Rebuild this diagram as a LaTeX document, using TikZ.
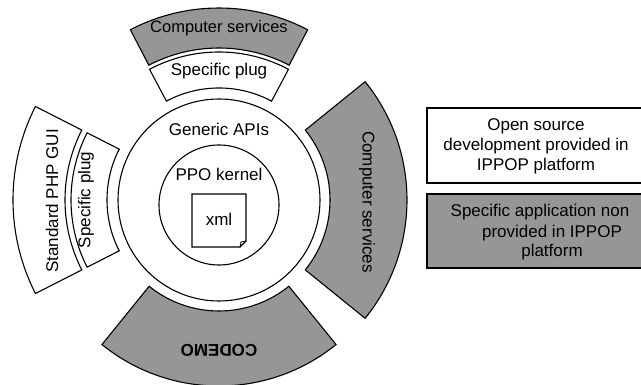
\documentclass[tikz,border=0pt]{standalone}
\usepackage{fontspec}
\setmainfont{Liberation Sans}
\usetikzlibrary{calc}
\definecolor{sectgray}{RGB}{150,150,150}
\begin{document}
\begin{tikzpicture}[x=1pt,y=1pt,
  outl/.style={draw=black,line width=1.1pt,line join=miter},
  graysec/.style={outl,fill=sectgray},
  whitesec/.style={outl,fill=white},
  lbl/.style={font=\fontsize{17}{20}\selectfont,inner sep=0pt,align=center},
  lbls/.style={font=\fontsize{16.5}{19}\selectfont,inner sep=0pt,align=center}]
\clip (0,0) rectangle (641,385);
\coordinate (C) at (219,185);
\newcommand{\annsec}[5]{%
  \path[#1] ($(C)+(#2:#4)$) arc[start angle=#2,end angle=#3,radius=#4]
    -- ($(C)+(#3:#5)$) arc[start angle=#3,end angle=#2,radius=#5] -- cycle;}
% top
\annsec{graysec}{62.5}{117.5}{152}{192}
\annsec{whitesec}{62}{118}{112}{148}
% left
\annsec{whitesec}{153}{207}{154}{206}
\annsec{whitesec}{153}{207}{112}{148}
% right
\annsec{graysec}{-39}{39}{111}{188}
% bottom
\annsec{graysec}{231}{309}{111}{186}
% circles
\draw[outl] (C) circle[radius=101];
\coordinate (K) at (219,180);
\draw[outl] (K) circle[radius=60];
% xml document
\draw[outl,fill=white] (192,191) -- (246,191) -- (246,144) -- (240,138) -- (192,138) -- cycle;
\draw[outl,line width=0.8pt] (246,144) -- (241,143) -- (240,138);
% texts
\node[lbls] (cstop) at (219,357) {Computer services};
\node[lbl] (sptop) at (219,314) {Specific plug};
\node[lbl] (gapi) at (219,256) {Generic APIs};
\node[lbl] (ppo) at (219,211) {PPO kernel};
\node[lbl] (xml) at (219,166) {xml};
\node[lbl,rotate=90] (gui) at (52,184) {Standard PHP GUI};
\node[lbl,rotate=90] (spleft) at (86,185) {Specific plug};
\node[lbl,rotate=-90] (csright) at (367,183) {Computer services};
\node[lbl,rotate=180,font=\fontsize{17}{20}\selectfont\bfseries] (codemo) at (219,35) {CODEMO};
% legend
\draw[outl,fill=white] (427,202) rectangle (645,277);
\node[lbl] (leg1) at (536,239) {Open source\\development provided in\\IPPOP platform};
\draw[outl,fill=sectgray] (427,117) rectangle (645,191);
\node[lbl,anchor=north] (leg2a) at (540,181) {Specific application non};
\node[lbl,anchor=north] (leg2b) at (552,160) {provided in IPPOP};
\node[lbl,anchor=north] (leg2c) at (552,141) {platform};
\end{tikzpicture}
\end{document}
